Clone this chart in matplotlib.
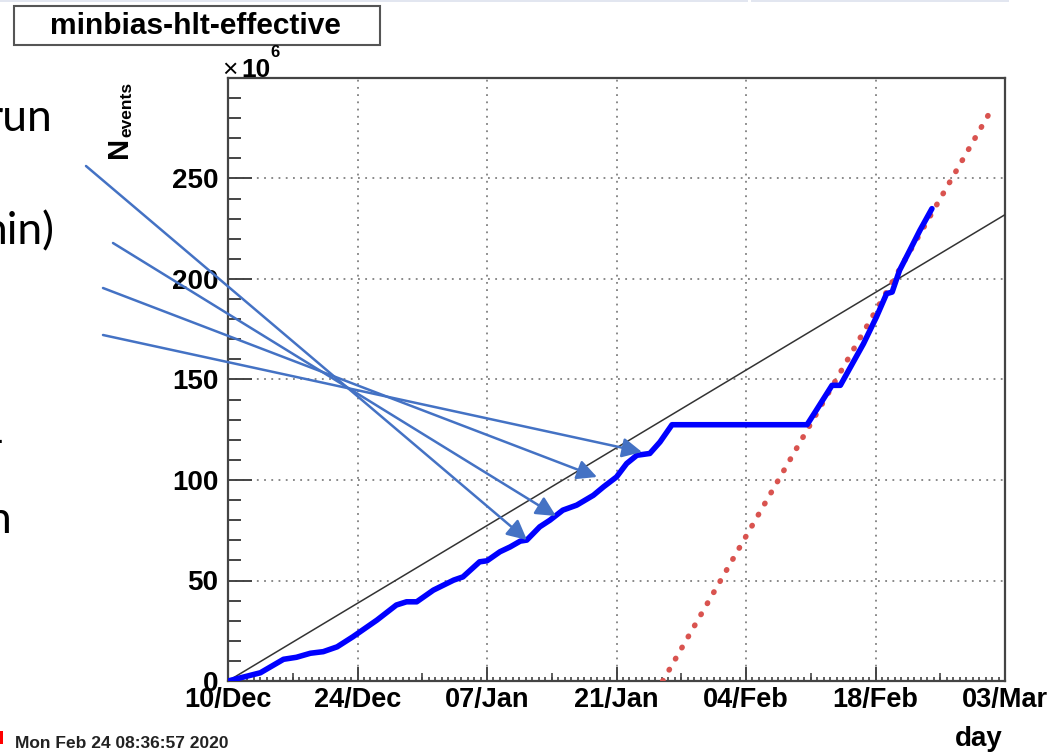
import matplotlib
matplotlib.use("Agg")
import matplotlib.pyplot as plt
from matplotlib.patches import Rectangle, FancyArrowPatch
from matplotlib.ticker import MultipleLocator, FixedLocator, NullFormatter

# ---- data (days since 10 Dec 2019, events in units of 1e6) ----
days = [0, 3.5, 6.0, 7.4, 8.9, 10.3, 11.8, 13.5, 16.1, 18.2, 19.3, 20.4,
        22.2, 24.4, 25.4, 27.2, 28.0, 29.4, 30.5, 31.6, 32.3, 33.7, 34.8,
        36.2, 37.7, 39.5, 40.6, 42.0, 43.1, 44.2, 45.6, 46.7, 48.0, 62.6,
        63.6, 65.3, 66.2, 67.2, 68.7, 70.1, 71.2, 71.8, 72.6, 73.7, 74.8,
        76.1]
events = [0, 4.1, 10.8, 11.8, 13.8, 14.6, 17.0, 22.0, 30.3, 37.8, 39.4,
          39.4, 45.2, 50.2, 51.8, 59.3, 59.8, 64.3, 66.7, 69.6, 70.1, 76.7,
          80.0, 85.0, 87.5, 92.4, 96.6, 101.5, 108.2, 112.3, 113.2, 118.9,
          127.5, 127.5, 134.7, 147.1, 147.1, 155.4, 167.8, 181.1, 192.7,
          193.5, 204.3, 214.2, 224.2, 235.0]

goal_days = [0, 84]
goal_events = [0, 232]

trend_days = [47.0, 82.6]
trend_events = [0, 284.8]

tick_days = [0, 14, 28, 42, 56, 70, 84]
tick_labels = ["10/Dec", "24/Dec", "07/Jan", "21/Jan", "04/Feb", "18/Feb", "03/Mar"]

W, H = 1061, 754
fig = plt.figure(figsize=(W / 100, H / 100), dpi=100)

def fx(px):
    return px / W

def fy(py):
    return 1 - py / H

ax = fig.add_axes([fx(228), fy(681), fx(1005) - fx(228), fy(78) - fy(681)])
ax.set_xlim(0, 84)
ax.set_ylim(0, 300)

font = "Liberation Sans"
frame_col = "#444444"

# grid
ax.grid(True, which="major", color="#808080", linestyle=(0, (1, 3)), linewidth=1.3)
ax.set_axisbelow(True)

ax.plot(goal_days, goal_events, color="#333333", lw=1.1, zorder=3)
ax.plot(trend_days, trend_events, color="#d9534f", lw=4.0,
        linestyle=(0, (0.1, 2.2)), dash_capstyle="round", zorder=4)
ax.plot(days, events, color="#0000ff", lw=4.0, solid_joinstyle="round",
        solid_capstyle="round", zorder=5)

for s in ax.spines.values():
    s.set_color(frame_col)
    s.set_linewidth(1.6)

# y axis ticks
ax.yaxis.set_minor_locator(MultipleLocator(10))
ax.set_yticks([0, 50, 100, 150, 200, 250])
ax.tick_params(axis="y", which="major", direction="in", length=17, width=1.4,
               color=frame_col, pad=7, labelsize=20)
ax.tick_params(axis="y", which="minor", direction="in", length=9, width=1.4,
               color=frame_col)

# x axis ticks
ax.xaxis.set_major_locator(FixedLocator(tick_days))
ax.set_xticklabels(tick_labels)
ax.xaxis.set_minor_locator(MultipleLocator(0.7))
ax.tick_params(axis="x", which="major", direction="in", length=10, width=1.4,
               color=frame_col, pad=4, labelsize=19.5)
ax.tick_params(axis="x", which="minor", direction="in", length=3, width=1.2,
               color=frame_col)
for lab in ax.get_xticklabels() + ax.get_yticklabels():
    lab.set_fontfamily(font)
    lab.set_fontweight("bold")

# medium ticks every 7 days
sec = ax.secondary_xaxis("bottom")
sec.set_xticks([7, 21, 35, 49, 63, 77])
sec.xaxis.set_major_formatter(NullFormatter())
sec.tick_params(axis="x", direction="in", length=6, width=1.2, color=frame_col)
sec.spines["bottom"].set_visible(False)

# axis annotations
fig.text(fx(1003), fy(746), "day", ha="right", va="baseline", fontsize=20,
         fontweight="bold", family=font)
fig.text(fx(222), fy(77), "\u00d7", ha="left", va="baseline", fontsize=19,
         family=font)
fig.text(fx(241), fy(77), "10", ha="left", va="baseline", fontsize=19,
         fontweight="bold", family=font)
fig.text(fx(270), fy(57), "6", ha="left", va="baseline", fontsize=12,
         fontweight="bold", family=font)
fig.text(fx(133), fy(158), "N", rotation=90, ha="right", va="bottom",
         fontsize=21, fontweight="bold", family=font)
fig.text(fx(134), fy(137), "events", rotation=90, ha="right", va="bottom",
         fontsize=12.5, fontweight="bold", family=font)

# title box
fig.patches.append(Rectangle((fx(14), fy(45)), fx(380) - fx(14), fy(6) - fy(45),
                             transform=fig.transFigure, facecolor="white",
                             edgecolor="#555555", lw=1.5))
fig.text(fx(195), fy(26), "minbias-hlt-effective", ha="center", va="center",
         fontsize=21.5, fontweight="bold", family=font)

# timestamp
fig.text(fx(15), fy(744), "Mon Feb 24 08:36:57 2020", ha="left", va="center",
         fontsize=12.5, fontweight="bold", family=font, color="#222222")
fig.patches.append(Rectangle((0, fy(744)), fx(3), fy(731) - fy(744),
                             transform=fig.transFigure, facecolor="red",
                             edgecolor="none"))

# slide header strip
fig.patches.append(Rectangle((0, fy(2)), fx(748), fy(0) - fy(2),
                             transform=fig.transFigure, facecolor="#e2e6f0",
                             edgecolor="none"))
fig.patches.append(Rectangle((fx(751), fy(2)), fx(1009) - fx(751), fy(0) - fy(2),
                             transform=fig.transFigure, facecolor="#e2e6f0",
                             edgecolor="none"))

# slide text on the left
slide_font = "Lato"
fig.text(fx(53), fy(131), "run", ha="right", va="baseline", fontsize=32,
         family=slide_font, color="black")
fig.text(fx(55), fy(244), "nin)", ha="right", va="baseline", fontsize=32,
         family=slide_font, color="black")
fig.text(fx(4), fy(455), "-", ha="right", va="baseline", fontsize=32,
         family=slide_font, color="black")
fig.text(fx(12), fy(533), "n", ha="right", va="baseline", fontsize=32,
         family=slide_font, color="black")

# callout arrows
arrows = [((86, 166), (527, 540)),
          ((113, 243), (556, 516)),
          ((103, 288), (597, 477)),
          ((103, 335), (642, 452))]
for (x0, y0), (x1, y1) in arrows:
    fig.patches.append(FancyArrowPatch((fx(x0), fy(y0)), (fx(x1), fy(y1)),
                                       transform=fig.transFigure,
                                       arrowstyle="-|>,head_length=12,head_width=6",
                                       color="#4472c4", lw=1.8,
                                       shrinkA=0, shrinkB=0, zorder=10))

fig.savefig("out.png", dpi=100)
